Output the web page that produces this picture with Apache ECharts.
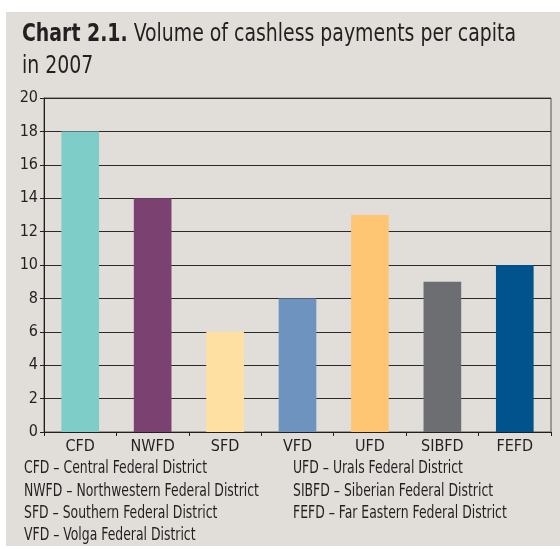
<!DOCTYPE html>
<html lang="en">
<head>
    <meta charset="UTF-8">
    <title>Chart 2.1</title>
    <style>
        body { margin: 0; background: #ffffff; }
        #bg { position: absolute; left: 6px; top: 12px; width: 554px; height: 534px; background: #e1ddd8; }
        #main { position: absolute; left: 0; top: 0; width: 560px; height: 549px; }
    </style>
</head>
<body>
<div id="bg"></div>
<div id="main"></div>
<script src="https://cdn.jsdelivr.net/npm/echarts@6/dist/echarts.min.js"></script>
<script>
    // data
    var categories = ['CFD', 'NWFD', 'SFD', 'VFD', 'UFD', 'SIBFD', 'FEFD'];
    var values = [18, 14, 6, 8, 13, 9, 10];
    var barColors = ['#7ecdc8', '#7b4170', '#fee0a3', '#6f93bf', '#fec573', '#6d6e71', '#00538d'];
    var districtNames = ['Central Federal District', 'Northwestern Federal District', 'Southern Federal District',
        'Volga Federal District', 'Urals Federal District', 'Siberian Federal District', 'Far Eastern Federal District'];
    var yTicks = [0, 2, 4, 6, 8, 10, 12, 14, 16, 18, 20];
    var titleBold = 'Chart 2.1.';
    var titleRest = 'Volume of cashless payments per capita';
    var titleLine2 = 'in 2007';

    var fontName = '"DejaVu Sans Condensed", "Liberation Sans", sans-serif';
    var textColor = '#231f20';

    // no narrow font here, so squeeze the texts a bit to the width of the original
    var ctx = document.createElement('canvas').getContext('2d');
    function textWidth(s, size, weight) {
        ctx.font = (weight || 'normal') + ' ' + size + 'px ' + fontName;
        return ctx.measureText(s).width;
    }
    var titleScale = 494 / (textWidth(titleBold, 24, 'bold') + textWidth(' ' + titleRest, 24));
    var noteScale = 183 / textWidth(categories[0] + ' \u2013 ' + districtNames[0], 17);

    var graphics = [{
        type: 'text',
        x: 22,
        y: 35,
        scaleX: titleScale,
        style: {
            text: '{b|' + titleBold + '} ' + titleRest,
            fontSize: 24,
            fontFamily: fontName,
            fill: textColor,
            verticalAlign: 'middle',
            rich: { b: { fontSize: 24, fontWeight: 'bold', fontFamily: fontName, fill: textColor } }
        }
    }, {
        type: 'text',
        x: 22,
        y: 67,
        scaleX: titleScale,
        style: { text: titleLine2, fontSize: 24, fontFamily: fontName, fill: textColor, verticalAlign: 'middle' }
    }];

    // explanation lines under the chart, 4 on the left, 3 on the right
    for (var i = 0; i < categories.length; i++) {
        var col = i < 4 ? 0 : 1;
        var row = i < 4 ? i : i - 4;
        graphics.push({
            type: 'text',
            x: col === 0 ? 24 : 293,
            y: 469 + row * 22.3,
            scaleX: noteScale,
            style: {
                text: categories[i] + ' \u2013 ' + districtNames[i],
                fontSize: 17,
                fontFamily: fontName,
                fill: textColor,
                verticalAlign: 'middle'
            }
        });
    }

    var myChart = echarts.init(document.getElementById('main'));
    var option = {
        animation: false,
        grid: {
            left: 44,
            right: 9,
            top: 98,
            bottom: 117,
            show: true,
            borderColor: '#555555',
            borderWidth: 1
        },
        xAxis: {
            type: 'category',
            data: categories,
            axisLine: { lineStyle: { color: '#231f20', width: 1 } },
            axisTick: { show: true, length: 4, inside: false, lineStyle: { color: '#231f20' } },
            axisLabel: { fontSize: 16, fontFamily: fontName, color: textColor, margin: 7 }
        },
        yAxis: {
            type: 'value',
            min: yTicks[0],
            max: yTicks[yTicks.length - 1],
            interval: yTicks[1] - yTicks[0],
            axisLine: { show: true, lineStyle: { color: '#231f20', width: 1 } },
            axisTick: { show: true, length: 4, lineStyle: { color: '#231f20' } },
            axisLabel: { fontSize: 16, fontFamily: fontName, color: textColor, margin: 6 },
            splitLine: { show: true, lineStyle: { color: '#2a2a2a', width: 1 } }
        },
        series: [{
            type: 'bar',
            barWidth: '52%',
            data: values.map(function (v, i) {
                return { value: v, itemStyle: { color: barColors[i] } };
            })
        }],
        graphic: graphics
    };
    myChart.setOption(option);
</script>
</body>
</html>
